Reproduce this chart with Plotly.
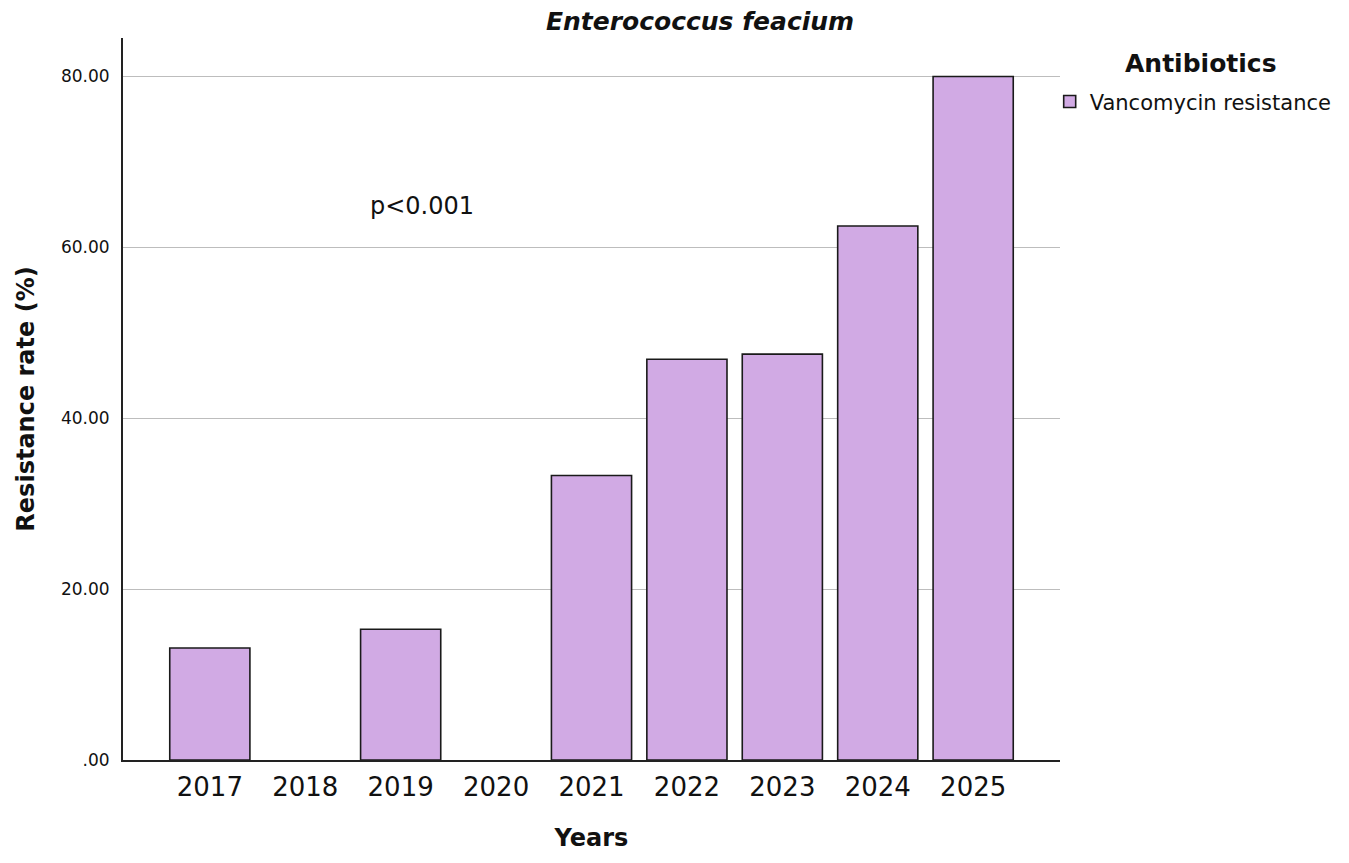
import plotly.graph_objects as go

years = ["2017", "2018", "2019", "2020", "2021", "2022", "2023", "2024", "2025"]
vancomycin = [13.1, 0, 15.3, 0, 33.3, 46.9, 47.5, 62.5, 80.0]
y_ticks = [0, 20, 40, 60, 80]
y_tick_labels = [".00", "20.00", "40.00", "60.00", "80.00"]

font = "DejaVu Sans"
ink = "#111"

# SPSS draws no outline for empty bars
outline = [0 if v == 0 else 1.6 for v in vancomycin]

fig = go.Figure()
fig.add_trace(
    go.Bar(
        x=years,
        y=vancomycin,
        name="Vancomycin resistance",
        marker=dict(color="#D1AAE4", line=dict(color="#1a1a1a", width=outline)),
        width=0.84,
    )
)

fig.update_layout(
    width=1349,
    height=863,
    margin=dict(l=115, r=297, t=30, b=111),
    plot_bgcolor="white",
    paper_bgcolor="white",
    font=dict(family=font, color=ink),
    showlegend=True,
    legend=dict(
        x=0.989,
        y=0.94,
        xanchor="left",
        yanchor="top",
        font=dict(size=21, family=font, color=ink),
        bgcolor="rgba(0,0,0,0)",
    ),
    title=dict(
        text="<b><i>Enterococcus feacium</i></b>",
        x=0.513,
        xanchor="center",
        y=0.985,
        yanchor="middle",
        font=dict(size=25, family=font, color=ink),
    ),
)

fig.update_xaxes(
    type="category",
    range=[-0.91, 8.91],
    showline=True,
    linecolor="#222",
    linewidth=2,
    showgrid=False,
    ticks="",
    ticklabelstandoff=3,
    tickfont=dict(size=26, family=font, color=ink),
    title=dict(text="<b>Years</b>", font=dict(size=24, family=font, color=ink), standoff=28),
)
fig.update_yaxes(
    range=[0, 84.5],
    tickvals=y_ticks,
    ticktext=y_tick_labels,
    showline=True,
    linecolor="#222",
    linewidth=2,
    showgrid=True,
    gridcolor="#bdbdbd",
    gridwidth=1.2,
    zeroline=False,
    ticks="",
    ticklabelstandoff=8,
    tickfont=dict(size=17, family=font, color=ink),
    title=dict(
        text="<b>Resistance rate (%)</b>",
        font=dict(size=24, family=font, color=ink),
        standoff=20,
    ),
)

fig.add_annotation(
    x=1.150,
    y=0.965,
    xref="paper",
    yref="paper",
    xanchor="center",
    yanchor="middle",
    text="<b>Antibiotics</b>",
    showarrow=False,
    font=dict(size=25, family=font, color=ink),
)

fig.add_annotation(
    x=2.22,
    y=64.8,
    xref="x",
    yref="y",
    text="p<0.001",
    showarrow=False,
    font=dict(size=24, family=font, color=ink),
)

fig.write_html("out.html")
